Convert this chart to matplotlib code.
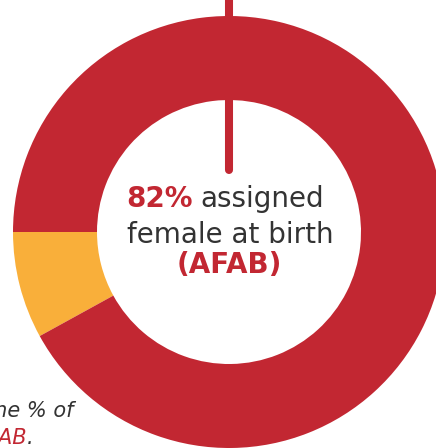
import matplotlib.pyplot as plt

# data
labels = ['other', 'AFAB']
values = [8, 92]
colors = ['#F9AF3A', '#C22732']

W, H = 436, 448
fig = plt.figure(figsize=(W / 100, H / 100), dpi=100)
ax = fig.add_axes([0, 0, 1, 1])

cx, cy = 229, H - 232
R = 216
ax.pie(values, colors=colors, startangle=180, counterclock=True,
       center=(cx, cy), radius=R, wedgeprops=dict(width=84, linewidth=0),
       frame=True)
ax.set_xlim(0, W)
ax.set_ylim(0, H)
ax.set_aspect('equal')
ax.axis('off')

# pointer line
ax.plot([cx, cx], [H, H - 170], color='#C22732', lw=5.8, solid_capstyle='round')

fam = ['DejaVu Sans']
red = '#C22732'
gray = '#333333'
fs = 20
ax.text(193, H - 207, '82%', color=red, fontsize=fs, fontweight='bold',
        ha='right', va='baseline', family=fam)
ax.text(200, H - 207, 'assigned', color=gray, fontsize=fs,
        ha='left', va='baseline', family=fam)
ax.text(230, H - 243, 'female at birth', color=gray, fontsize=fs,
        ha='center', va='baseline', family=fam)
ax.text(229, H - 273, '(AFAB)', color=red, fontsize=fs, fontweight='bold',
        ha='center', va='baseline', family=fam)

# side note (cut off by the frame, as in the source)
ax.text(73, H - 417, 'the % of', color=gray, fontsize=15, style='italic',
        ha='right', va='baseline', family=fam)
ax.text(27, H - 444, 'AFAB', color=red, fontsize=15, style='italic',
        ha='right', va='baseline', family=fam)
ax.text(27, H - 444, '.', color=gray, fontsize=15, style='italic',
        ha='left', va='baseline', family=fam)

fig.savefig('out.png', dpi=100)
